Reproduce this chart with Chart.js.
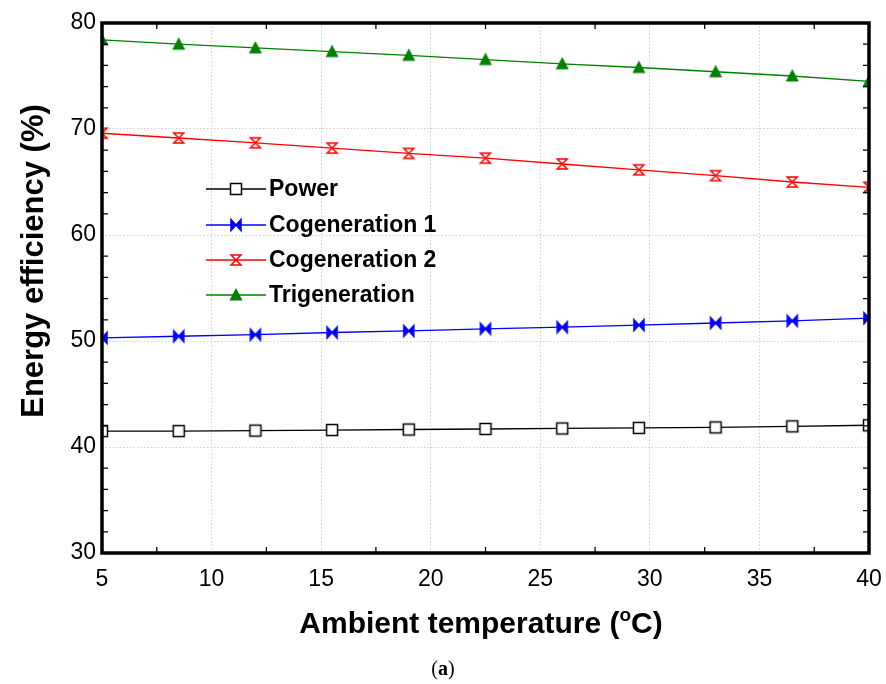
<!DOCTYPE html>
<html>
<head>
<meta charset="utf-8">
<script src="https://cdn.jsdelivr.net/npm/chart.js@4/dist/chart.umd.min.js"></script>
<style>
  html, body { margin: 0; padding: 0; background: #fff; }
  #chart { display: block; }
</style>
</head>
<body>
<canvas id="chart" width="886" height="684"></canvas>
<script>
// data
const temperature = [5, 8.5, 12, 15.5, 19, 22.5, 26, 29.5, 33, 36.5, 40];
const power = [41.5, 41.5, 41.55, 41.6, 41.65, 41.7, 41.75, 41.8, 41.85, 41.95, 42.05];
const cogeneration1 = [50.3, 50.45, 50.6, 50.8, 50.95, 51.15, 51.3, 51.5, 51.7, 51.9, 52.15];
const cogeneration2 = [69.6, 69.15, 68.7, 68.2, 67.7, 67.25, 66.7, 66.15, 65.6, 65.0, 64.5];
const trigeneration = [78.4, 78.0, 77.65, 77.3, 76.95, 76.55, 76.15, 75.8, 75.4, 75.0, 74.5];

const seriesNames = ['Power', 'Cogeneration 1', 'Cogeneration 2', 'Trigeneration'];
const xTicks = [5, 10, 15, 20, 25, 30, 35, 40];
const yTicks = [30, 40, 50, 60, 70, 80];
const xMinor = [7.5, 12.5, 17.5, 22.5, 27.5, 32.5, 37.5];
const yMinor = [32, 34, 36, 38, 42, 44, 46, 48, 52, 54, 56, 58, 62, 64, 66, 68, 72, 74, 76, 78];

const SANS = '"Liberation Sans", Arial, Helvetica, sans-serif';
const SERIF = '"Liberation Serif", "Times New Roman", serif';

function makeMarker(kind, color) {
    const c = document.createElement('canvas');
    c.width = 16;
    c.height = 16;
    const g = c.getContext('2d');
    g.translate(8, 8);
    g.lineWidth = 1.5;
    g.strokeStyle = color;
    g.fillStyle = color;
    if (kind === 'square') {
        g.fillStyle = '#fff';
        g.fillRect(-5.5, -5.5, 11, 11);
        g.strokeRect(-5.5, -5.5, 11, 11);
    } else if (kind === 'bowtie') {
        g.beginPath();
        g.moveTo(-5, -5.5); g.lineTo(0, 0); g.lineTo(-5, 5.5); g.closePath();
        g.moveTo(5, -5.5); g.lineTo(0, 0); g.lineTo(5, 5.5); g.closePath();
        g.fill();
        g.stroke();
    } else if (kind === 'hourglass') {
        g.beginPath();
        g.moveTo(-5, -5); g.lineTo(5, -5); g.lineTo(-5, 5); g.lineTo(5, 5); g.closePath();
        g.fillStyle = '#fff';
        g.fill();
        g.stroke();
    } else if (kind === 'triangle') {
        g.beginPath();
        g.moveTo(0, -7); g.lineTo(6.5, 5.5); g.lineTo(-6.5, 5.5); g.closePath();
        g.fill();
    }
    return c;
}

const colors = ['#000000', '#0000ff', '#ff0000', '#008000'];
const markers = [
    makeMarker('square', '#000000'),
    makeMarker('bowtie', '#0000ff'),
    makeMarker('hourglass', '#ff0000'),
    makeMarker('triangle', '#008000')
];
const seriesValues = [power, cogeneration1, cogeneration2, trigeneration];

const datasets = seriesValues.map((vals, i) => ({
    label: seriesNames[i],
    data: temperature.map((t, k) => ({ x: t, y: vals[k] })),
    borderColor: colors[i],
    backgroundColor: colors[i],
    borderWidth: 1.3,
    pointStyle: markers[i],
    pointRadius: 7,
    tension: 0,
    clip: 0
}));

const frame = {
    id: 'frame',
    afterDraw(chart) {
        const ctx = chart.ctx;
        const a = chart.chartArea;
        const xs = chart.scales.x;
        const ys = chart.scales.y;
        ctx.save();
        ctx.strokeStyle = '#000';

        // minor inward ticks
        ctx.lineWidth = 1.3;
        ctx.beginPath();
        xMinor.forEach(v => {
            const px = xs.getPixelForValue(v);
            ctx.moveTo(px, a.bottom); ctx.lineTo(px, a.bottom - 6);
            ctx.moveTo(px, a.top); ctx.lineTo(px, a.top + 6);
        });
        yMinor.forEach(v => {
            const py = ys.getPixelForValue(v);
            ctx.moveTo(a.left, py); ctx.lineTo(a.left + 6, py);
            ctx.moveTo(a.right, py); ctx.lineTo(a.right - 6, py);
        });
        ctx.stroke();

        // box
        ctx.lineWidth = 3.5;
        ctx.strokeRect(a.left, a.top, a.right - a.left, a.bottom - a.top);

        // legend inside plot
        const rows = [189, 225, 260, 295];
        ctx.font = 'bold 23px ' + SANS;
        ctx.textBaseline = 'middle';
        ctx.textAlign = 'left';
        rows.forEach((y, i) => {
            ctx.strokeStyle = colors[i];
            ctx.lineWidth = 1.3;
            ctx.beginPath();
            ctx.moveTo(206, y); ctx.lineTo(266, y);
            ctx.stroke();
            ctx.drawImage(markers[i], 236 - 8, y - 8);
            ctx.fillStyle = '#000';
            ctx.fillText(seriesNames[i], 269, y + 1);
        });

        // y axis title
        ctx.save();
        ctx.translate(34, 261);
        ctx.rotate(-Math.PI / 2);
        ctx.textAlign = 'center';
        ctx.textBaseline = 'middle';
        ctx.font = 'bold 31px ' + SANS;
        ctx.fillText('Energy efficiency (%)', 0, 0);
        ctx.restore();

        // x axis title with superscript o
        const big = 'bold 30px ' + SANS;
        const small = 'bold 19px ' + SANS;
        const p1 = 'Ambient temperature (';
        const p2 = 'o';
        const p3 = 'C)';
        ctx.textBaseline = 'alphabetic';
        ctx.font = big;
        const w1 = ctx.measureText(p1).width;
        const w3 = ctx.measureText(p3).width;
        ctx.font = small;
        const w2 = ctx.measureText(p2).width;
        let x = 481 - (w1 + w2 + w3) / 2;
        const base = 633;
        ctx.font = big;
        ctx.fillText(p1, x, base);
        x += w1;
        ctx.font = small;
        ctx.fillText(p2, x, base - 12);
        x += w2;
        ctx.font = big;
        ctx.fillText(p3, x, base);

        // panel caption
        ctx.textAlign = 'left';
        ctx.font = '20px ' + SERIF;
        const wl = ctx.measureText('(').width;
        const wr = ctx.measureText(')').width;
        ctx.font = 'bold 20px ' + SERIF;
        const wa = ctx.measureText('a').width;
        let cx = 443 - (wl + wa + wr) / 2;
        ctx.font = '20px ' + SERIF;
        ctx.fillText('(', cx, 675);
        cx += wl;
        ctx.font = 'bold 20px ' + SERIF;
        ctx.fillText('a', cx, 675);
        cx += wa;
        ctx.font = '20px ' + SERIF;
        ctx.fillText(')', cx, 675);

        ctx.restore();
    }
};

new Chart(document.getElementById('chart').getContext('2d'), {
    type: 'line',
    data: { datasets: datasets },
    options: {
        responsive: false,
        animation: false,
        events: [],
        layout: { padding: { top: 23, right: 17, left: 0, bottom: 0 } },
        plugins: {
            legend: { display: false },
            tooltip: { enabled: false }
        },
        scales: {
            x: {
                type: 'linear',
                min: 5,
                max: 40,
                afterBuildTicks: s => { s.ticks = xTicks.map(v => ({ value: v })); },
                afterFit: s => { s.height = 131; s.paddingLeft = 0; s.paddingRight = 0; },
                grid: { color: '#cfcfcf', lineWidth: 1, drawTicks: false },
                border: { display: false, dash: [1.5, 2] },
                ticks: {
                    color: '#000',
                    font: { family: SANS, size: 23 },
                    padding: 13,
                    maxRotation: 0,
                    autoSkip: false
                }
            },
            y: {
                type: 'linear',
                min: 30,
                max: 80,
                afterBuildTicks: s => { s.ticks = yTicks.map(v => ({ value: v })); },
                afterFit: s => { s.width = 102; s.paddingTop = 0; s.paddingBottom = 0; },
                grid: { color: '#cfcfcf', lineWidth: 1, drawTicks: false },
                border: { display: false, dash: [1.5, 2] },
                ticks: {
                    color: '#000',
                    font: { family: SANS, size: 23 },
                    padding: 6
                }
            }
        }
    },
    plugins: [frame]
});
</script>
</body>
</html>
